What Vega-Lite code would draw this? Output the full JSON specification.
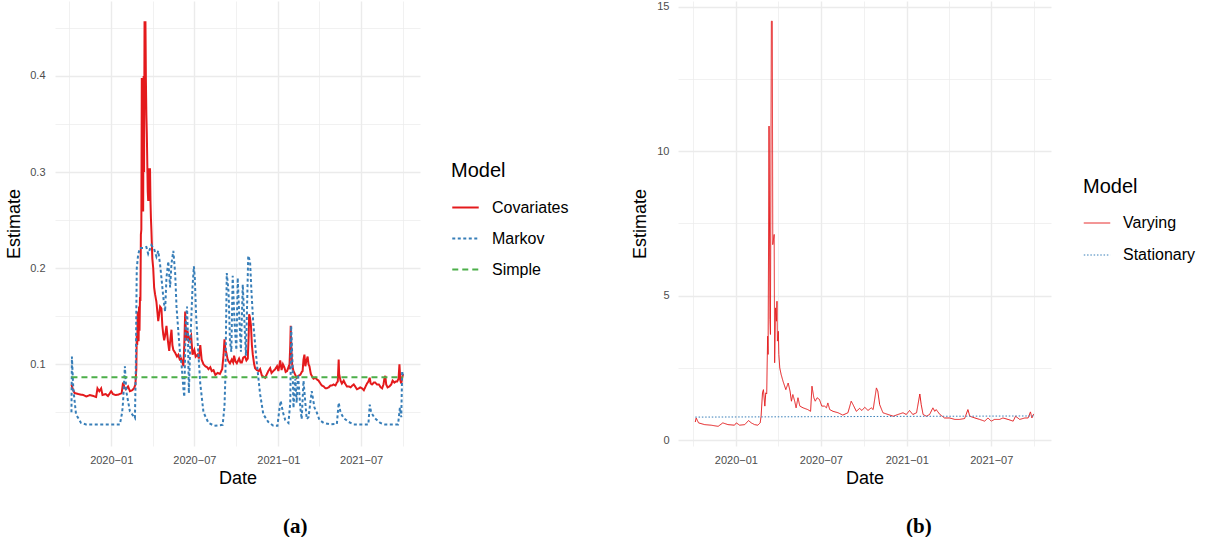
{
  "$schema": "https://vega.github.io/schema/vega-lite/v6.json",
  "background": "white",
  "padding": {"left": 5, "top": 0, "right": 0, "bottom": 0},
  "config": {
    "font": "Liberation Sans",
    "view": {"stroke": null},
    "axis": {
      "domain": false, "ticks": false,
      "gridColor": "#EBEBEB",
      "labelColor": "#4D4D4D", "labelFontSize": 11, "labelFont": "Liberation Sans",
      "titleColor": "#000000", "titleFontSize": 18, "titleFontWeight": "normal", "titleFont": "Liberation Sans"
    },
    "legend": {
      "titleFontSize": 20, "titleFontWeight": "normal", "titleColor": "#000000",
      "labelFontSize": 16, "labelColor": "#000000",
      "symbolType": "stroke"
    }
  },
  "resolve": {"scale": {"color": "independent", "strokeDash": "independent"}},
  "datasets": {
    "a": [
      {"date":"2019-10-06","model":"Covariates","value":0.079},
      {"date":"2019-10-09","model":"Covariates","value":0.074},
      {"date":"2019-10-13","model":"Covariates","value":0.070},
      {"date":"2019-10-21","model":"Covariates","value":0.069},
      {"date":"2019-11-01","model":"Covariates","value":0.068},
      {"date":"2019-11-08","model":"Covariates","value":0.0665},
      {"date":"2019-11-15","model":"Covariates","value":0.068},
      {"date":"2019-11-23","model":"Covariates","value":0.067},
      {"date":"2019-11-29","model":"Covariates","value":0.066},
      {"date":"2019-12-02","model":"Covariates","value":0.075},
      {"date":"2019-12-06","model":"Covariates","value":0.072},
      {"date":"2019-12-10","model":"Covariates","value":0.075},
      {"date":"2019-12-13","model":"Covariates","value":0.068},
      {"date":"2019-12-20","model":"Covariates","value":0.069},
      {"date":"2019-12-25","model":"Covariates","value":0.067},
      {"date":"2020-01-01","model":"Covariates","value":0.072},
      {"date":"2020-01-05","model":"Covariates","value":0.069},
      {"date":"2020-01-11","model":"Covariates","value":0.068},
      {"date":"2020-01-17","model":"Covariates","value":0.0685},
      {"date":"2020-01-24","model":"Covariates","value":0.070},
      {"date":"2020-01-27","model":"Covariates","value":0.081},
      {"date":"2020-01-30","model":"Covariates","value":0.076},
      {"date":"2020-02-02","model":"Covariates","value":0.074},
      {"date":"2020-02-07","model":"Covariates","value":0.077},
      {"date":"2020-02-11","model":"Covariates","value":0.072},
      {"date":"2020-02-16","model":"Covariates","value":0.073},
      {"date":"2020-02-20","model":"Covariates","value":0.075},
      {"date":"2020-02-23","model":"Covariates","value":0.079},
      {"date":"2020-02-25","model":"Covariates","value":0.095},
      {"date":"2020-02-26","model":"Covariates","value":0.130},
      {"date":"2020-02-27","model":"Covariates","value":0.120},
      {"date":"2020-02-28","model":"Covariates","value":0.155},
      {"date":"2020-02-29","model":"Covariates","value":0.128},
      {"date":"2020-03-01","model":"Covariates","value":0.124},
      {"date":"2020-03-02","model":"Covariates","value":0.160},
      {"date":"2020-03-03","model":"Covariates","value":0.135},
      {"date":"2020-03-04","model":"Covariates","value":0.170},
      {"date":"2020-03-05","model":"Covariates","value":0.166},
      {"date":"2020-03-06","model":"Covariates","value":0.235},
      {"date":"2020-03-07","model":"Covariates","value":0.240},
      {"date":"2020-03-08","model":"Covariates","value":0.398},
      {"date":"2020-03-09","model":"Covariates","value":0.280},
      {"date":"2020-03-10","model":"Covariates","value":0.398},
      {"date":"2020-03-11","model":"Covariates","value":0.259},
      {"date":"2020-03-12","model":"Covariates","value":0.400},
      {"date":"2020-03-13","model":"Covariates","value":0.300},
      {"date":"2020-03-14","model":"Covariates","value":0.457},
      {"date":"2020-03-15","model":"Covariates","value":0.400},
      {"date":"2020-03-16","model":"Covariates","value":0.457},
      {"date":"2020-03-17","model":"Covariates","value":0.395},
      {"date":"2020-03-18","model":"Covariates","value":0.360},
      {"date":"2020-03-19","model":"Covariates","value":0.340},
      {"date":"2020-03-20","model":"Covariates","value":0.310},
      {"date":"2020-03-21","model":"Covariates","value":0.280},
      {"date":"2020-03-22","model":"Covariates","value":0.270},
      {"date":"2020-03-23","model":"Covariates","value":0.280},
      {"date":"2020-03-24","model":"Covariates","value":0.304},
      {"date":"2020-03-25","model":"Covariates","value":0.270},
      {"date":"2020-03-26","model":"Covariates","value":0.304},
      {"date":"2020-03-27","model":"Covariates","value":0.270},
      {"date":"2020-03-28","model":"Covariates","value":0.252},
      {"date":"2020-03-29","model":"Covariates","value":0.240},
      {"date":"2020-03-30","model":"Covariates","value":0.225},
      {"date":"2020-03-31","model":"Covariates","value":0.210},
      {"date":"2020-04-02","model":"Covariates","value":0.200},
      {"date":"2020-04-04","model":"Covariates","value":0.180},
      {"date":"2020-04-06","model":"Covariates","value":0.173},
      {"date":"2020-04-09","model":"Covariates","value":0.165},
      {"date":"2020-04-11","model":"Covariates","value":0.155},
      {"date":"2020-04-13","model":"Covariates","value":0.145},
      {"date":"2020-04-15","model":"Covariates","value":0.152},
      {"date":"2020-04-17","model":"Covariates","value":0.160},
      {"date":"2020-04-20","model":"Covariates","value":0.158},
      {"date":"2020-04-22","model":"Covariates","value":0.140},
      {"date":"2020-04-24","model":"Covariates","value":0.131},
      {"date":"2020-04-26","model":"Covariates","value":0.125},
      {"date":"2020-04-28","model":"Covariates","value":0.130},
      {"date":"2020-05-01","model":"Covariates","value":0.140},
      {"date":"2020-05-04","model":"Covariates","value":0.125},
      {"date":"2020-05-07","model":"Covariates","value":0.114},
      {"date":"2020-05-10","model":"Covariates","value":0.128},
      {"date":"2020-05-12","model":"Covariates","value":0.136},
      {"date":"2020-05-14","model":"Covariates","value":0.120},
      {"date":"2020-05-16","model":"Covariates","value":0.115},
      {"date":"2020-05-20","model":"Covariates","value":0.112},
      {"date":"2020-05-24","model":"Covariates","value":0.108},
      {"date":"2020-05-27","model":"Covariates","value":0.110},
      {"date":"2020-05-30","model":"Covariates","value":0.105},
      {"date":"2020-06-02","model":"Covariates","value":0.106},
      {"date":"2020-06-05","model":"Covariates","value":0.102},
      {"date":"2020-06-07","model":"Covariates","value":0.098},
      {"date":"2020-06-09","model":"Covariates","value":0.120},
      {"date":"2020-06-11","model":"Covariates","value":0.155},
      {"date":"2020-06-13","model":"Covariates","value":0.125},
      {"date":"2020-06-16","model":"Covariates","value":0.135},
      {"date":"2020-06-19","model":"Covariates","value":0.125},
      {"date":"2020-06-22","model":"Covariates","value":0.128},
      {"date":"2020-06-24","model":"Covariates","value":0.130},
      {"date":"2020-06-27","model":"Covariates","value":0.110},
      {"date":"2020-07-01","model":"Covariates","value":0.115},
      {"date":"2020-07-04","model":"Covariates","value":0.108},
      {"date":"2020-07-08","model":"Covariates","value":0.110},
      {"date":"2020-07-11","model":"Covariates","value":0.106},
      {"date":"2020-07-14","model":"Covariates","value":0.120},
      {"date":"2020-07-17","model":"Covariates","value":0.105},
      {"date":"2020-07-21","model":"Covariates","value":0.100},
      {"date":"2020-07-25","model":"Covariates","value":0.098},
      {"date":"2020-07-29","model":"Covariates","value":0.097},
      {"date":"2020-08-01","model":"Covariates","value":0.095},
      {"date":"2020-08-05","model":"Covariates","value":0.097},
      {"date":"2020-08-08","model":"Covariates","value":0.093},
      {"date":"2020-08-12","model":"Covariates","value":0.094},
      {"date":"2020-08-16","model":"Covariates","value":0.089},
      {"date":"2020-08-21","model":"Covariates","value":0.091},
      {"date":"2020-08-26","model":"Covariates","value":0.090},
      {"date":"2020-08-31","model":"Covariates","value":0.095},
      {"date":"2020-09-03","model":"Covariates","value":0.110},
      {"date":"2020-09-05","model":"Covariates","value":0.126},
      {"date":"2020-09-07","model":"Covariates","value":0.115},
      {"date":"2020-09-09","model":"Covariates","value":0.112},
      {"date":"2020-09-12","model":"Covariates","value":0.105},
      {"date":"2020-09-14","model":"Covariates","value":0.103},
      {"date":"2020-09-17","model":"Covariates","value":0.101},
      {"date":"2020-09-21","model":"Covariates","value":0.105},
      {"date":"2020-09-24","model":"Covariates","value":0.102},
      {"date":"2020-09-26","model":"Covariates","value":0.109},
      {"date":"2020-09-29","model":"Covariates","value":0.103},
      {"date":"2020-10-02","model":"Covariates","value":0.101},
      {"date":"2020-10-05","model":"Covariates","value":0.104},
      {"date":"2020-10-07","model":"Covariates","value":0.106},
      {"date":"2020-10-10","model":"Covariates","value":0.102},
      {"date":"2020-10-13","model":"Covariates","value":0.102},
      {"date":"2020-10-16","model":"Covariates","value":0.107},
      {"date":"2020-10-20","model":"Covariates","value":0.108},
      {"date":"2020-10-23","model":"Covariates","value":0.104},
      {"date":"2020-10-26","model":"Covariates","value":0.106},
      {"date":"2020-10-28","model":"Covariates","value":0.130},
      {"date":"2020-10-29","model":"Covariates","value":0.152},
      {"date":"2020-10-31","model":"Covariates","value":0.148},
      {"date":"2020-11-02","model":"Covariates","value":0.140},
      {"date":"2020-11-04","model":"Covariates","value":0.120},
      {"date":"2020-11-06","model":"Covariates","value":0.110},
      {"date":"2020-11-09","model":"Covariates","value":0.100},
      {"date":"2020-11-11","model":"Covariates","value":0.096},
      {"date":"2020-11-15","model":"Covariates","value":0.094},
      {"date":"2020-11-19","model":"Covariates","value":0.093},
      {"date":"2020-11-22","model":"Covariates","value":0.095},
      {"date":"2020-11-26","model":"Covariates","value":0.088},
      {"date":"2020-11-30","model":"Covariates","value":0.087},
      {"date":"2020-12-03","model":"Covariates","value":0.086},
      {"date":"2020-12-06","model":"Covariates","value":0.089},
      {"date":"2020-12-10","model":"Covariates","value":0.093},
      {"date":"2020-12-14","model":"Covariates","value":0.096},
      {"date":"2020-12-17","model":"Covariates","value":0.091},
      {"date":"2020-12-21","model":"Covariates","value":0.093},
      {"date":"2020-12-25","model":"Covariates","value":0.095},
      {"date":"2020-12-29","model":"Covariates","value":0.098},
      {"date":"2021-01-01","model":"Covariates","value":0.093},
      {"date":"2021-01-05","model":"Covariates","value":0.104},
      {"date":"2021-01-08","model":"Covariates","value":0.094},
      {"date":"2021-01-11","model":"Covariates","value":0.100},
      {"date":"2021-01-14","model":"Covariates","value":0.097},
      {"date":"2021-01-17","model":"Covariates","value":0.092},
      {"date":"2021-01-20","model":"Covariates","value":0.093},
      {"date":"2021-01-23","model":"Covariates","value":0.097},
      {"date":"2021-01-25","model":"Covariates","value":0.095},
      {"date":"2021-01-27","model":"Covariates","value":0.120},
      {"date":"2021-01-28","model":"Covariates","value":0.140},
      {"date":"2021-01-30","model":"Covariates","value":0.110},
      {"date":"2021-01-31","model":"Covariates","value":0.100},
      {"date":"2021-02-03","model":"Covariates","value":0.093},
      {"date":"2021-02-07","model":"Covariates","value":0.089},
      {"date":"2021-02-10","model":"Covariates","value":0.086},
      {"date":"2021-02-14","model":"Covariates","value":0.088},
      {"date":"2021-02-18","model":"Covariates","value":0.089},
      {"date":"2021-02-21","model":"Covariates","value":0.092},
      {"date":"2021-02-23","model":"Covariates","value":0.093},
      {"date":"2021-02-25","model":"Covariates","value":0.105},
      {"date":"2021-02-27","model":"Covariates","value":0.110},
      {"date":"2021-03-01","model":"Covariates","value":0.098},
      {"date":"2021-03-03","model":"Covariates","value":0.103},
      {"date":"2021-03-06","model":"Covariates","value":0.108},
      {"date":"2021-03-08","model":"Covariates","value":0.100},
      {"date":"2021-03-10","model":"Covariates","value":0.098},
      {"date":"2021-03-13","model":"Covariates","value":0.090},
      {"date":"2021-03-15","model":"Covariates","value":0.088},
      {"date":"2021-03-19","model":"Covariates","value":0.085},
      {"date":"2021-03-23","model":"Covariates","value":0.086},
      {"date":"2021-03-27","model":"Covariates","value":0.084},
      {"date":"2021-03-30","model":"Covariates","value":0.083},
      {"date":"2021-04-03","model":"Covariates","value":0.080},
      {"date":"2021-04-06","model":"Covariates","value":0.078},
      {"date":"2021-04-10","model":"Covariates","value":0.077},
      {"date":"2021-04-14","model":"Covariates","value":0.075},
      {"date":"2021-04-17","model":"Covariates","value":0.075},
      {"date":"2021-04-21","model":"Covariates","value":0.076},
      {"date":"2021-04-25","model":"Covariates","value":0.078},
      {"date":"2021-04-28","model":"Covariates","value":0.078},
      {"date":"2021-05-02","model":"Covariates","value":0.079},
      {"date":"2021-05-06","model":"Covariates","value":0.078},
      {"date":"2021-05-09","model":"Covariates","value":0.081},
      {"date":"2021-05-11","model":"Covariates","value":0.082},
      {"date":"2021-05-13","model":"Covariates","value":0.105},
      {"date":"2021-05-14","model":"Covariates","value":0.090},
      {"date":"2021-05-17","model":"Covariates","value":0.083},
      {"date":"2021-05-20","model":"Covariates","value":0.080},
      {"date":"2021-05-24","model":"Covariates","value":0.083},
      {"date":"2021-05-27","model":"Covariates","value":0.080},
      {"date":"2021-05-31","model":"Covariates","value":0.077},
      {"date":"2021-06-04","model":"Covariates","value":0.077},
      {"date":"2021-06-08","model":"Covariates","value":0.076},
      {"date":"2021-06-12","model":"Covariates","value":0.078},
      {"date":"2021-06-15","model":"Covariates","value":0.079},
      {"date":"2021-06-18","model":"Covariates","value":0.077},
      {"date":"2021-06-22","model":"Covariates","value":0.074},
      {"date":"2021-06-26","model":"Covariates","value":0.075},
      {"date":"2021-06-29","model":"Covariates","value":0.076},
      {"date":"2021-07-03","model":"Covariates","value":0.075},
      {"date":"2021-07-07","model":"Covariates","value":0.073},
      {"date":"2021-07-10","model":"Covariates","value":0.076},
      {"date":"2021-07-14","model":"Covariates","value":0.080},
      {"date":"2021-07-17","model":"Covariates","value":0.082},
      {"date":"2021-07-20","model":"Covariates","value":0.086},
      {"date":"2021-07-22","model":"Covariates","value":0.080},
      {"date":"2021-07-25","model":"Covariates","value":0.079},
      {"date":"2021-07-29","model":"Covariates","value":0.081},
      {"date":"2021-08-01","model":"Covariates","value":0.081},
      {"date":"2021-08-05","model":"Covariates","value":0.079},
      {"date":"2021-08-09","model":"Covariates","value":0.079},
      {"date":"2021-08-13","model":"Covariates","value":0.076},
      {"date":"2021-08-16","model":"Covariates","value":0.075},
      {"date":"2021-08-19","model":"Covariates","value":0.079},
      {"date":"2021-08-21","model":"Covariates","value":0.085},
      {"date":"2021-08-23","model":"Covariates","value":0.088},
      {"date":"2021-08-25","model":"Covariates","value":0.079},
      {"date":"2021-08-28","model":"Covariates","value":0.076},
      {"date":"2021-09-01","model":"Covariates","value":0.077},
      {"date":"2021-09-05","model":"Covariates","value":0.079},
      {"date":"2021-09-08","model":"Covariates","value":0.083},
      {"date":"2021-09-12","model":"Covariates","value":0.081},
      {"date":"2021-09-15","model":"Covariates","value":0.082},
      {"date":"2021-09-18","model":"Covariates","value":0.082},
      {"date":"2021-09-21","model":"Covariates","value":0.085},
      {"date":"2021-09-23","model":"Covariates","value":0.100},
      {"date":"2021-09-25","model":"Covariates","value":0.083},
      {"date":"2021-09-27","model":"Covariates","value":0.080},
      {"date":"2021-09-29","model":"Covariates","value":0.086},
      {"date":"2021-10-01","model":"Covariates","value":0.090},

      {"date":"2019-10-06","model":"Markov","value":0.050},
      {"date":"2019-10-07","model":"Markov","value":0.108},
      {"date":"2019-10-10","model":"Markov","value":0.075},
      {"date":"2019-10-16","model":"Markov","value":0.048},
      {"date":"2019-10-27","model":"Markov","value":0.039},
      {"date":"2019-11-07","model":"Markov","value":0.0375},
      {"date":"2020-01-20","model":"Markov","value":0.0375},
      {"date":"2020-01-25","model":"Markov","value":0.050},
      {"date":"2020-01-27","model":"Markov","value":0.061},
      {"date":"2020-01-31","model":"Markov","value":0.098},
      {"date":"2020-02-03","model":"Markov","value":0.072},
      {"date":"2020-02-11","model":"Markov","value":0.051},
      {"date":"2020-02-22","model":"Markov","value":0.044},
      {"date":"2020-02-24","model":"Markov","value":0.100},
      {"date":"2020-02-25","model":"Markov","value":0.155},
      {"date":"2020-02-26","model":"Markov","value":0.200},
      {"date":"2020-02-29","model":"Markov","value":0.214},
      {"date":"2020-03-04","model":"Markov","value":0.221},
      {"date":"2020-03-11","model":"Markov","value":0.221},
      {"date":"2020-03-18","model":"Markov","value":0.222},
      {"date":"2020-03-22","model":"Markov","value":0.215},
      {"date":"2020-03-29","model":"Markov","value":0.224},
      {"date":"2020-04-04","model":"Markov","value":0.220},
      {"date":"2020-04-09","model":"Markov","value":0.212},
      {"date":"2020-04-13","model":"Markov","value":0.218},
      {"date":"2020-04-17","model":"Markov","value":0.204},
      {"date":"2020-04-20","model":"Markov","value":0.190},
      {"date":"2020-04-24","model":"Markov","value":0.170},
      {"date":"2020-04-28","model":"Markov","value":0.155},
      {"date":"2020-05-01","model":"Markov","value":0.190},
      {"date":"2020-05-05","model":"Markov","value":0.207},
      {"date":"2020-05-09","model":"Markov","value":0.180},
      {"date":"2020-05-12","model":"Markov","value":0.205},
      {"date":"2020-05-16","model":"Markov","value":0.218},
      {"date":"2020-05-20","model":"Markov","value":0.195},
      {"date":"2020-05-23","model":"Markov","value":0.160},
      {"date":"2020-05-27","model":"Markov","value":0.134},
      {"date":"2020-05-31","model":"Markov","value":0.110},
      {"date":"2020-06-03","model":"Markov","value":0.100},
      {"date":"2020-06-07","model":"Markov","value":0.075},
      {"date":"2020-06-09","model":"Markov","value":0.066},
      {"date":"2020-06-12","model":"Markov","value":0.140},
      {"date":"2020-06-15","model":"Markov","value":0.160},
      {"date":"2020-06-17","model":"Markov","value":0.130},
      {"date":"2020-06-19","model":"Markov","value":0.070},
      {"date":"2020-06-22","model":"Markov","value":0.120},
      {"date":"2020-06-27","model":"Markov","value":0.180},
      {"date":"2020-06-30","model":"Markov","value":0.202},
      {"date":"2020-07-02","model":"Markov","value":0.190},
      {"date":"2020-07-05","model":"Markov","value":0.150},
      {"date":"2020-07-10","model":"Markov","value":0.110},
      {"date":"2020-07-14","model":"Markov","value":0.080},
      {"date":"2020-07-21","model":"Markov","value":0.050},
      {"date":"2020-08-01","model":"Markov","value":0.039},
      {"date":"2020-08-14","model":"Markov","value":0.036},
      {"date":"2020-09-01","model":"Markov","value":0.037},
      {"date":"2020-09-05","model":"Markov","value":0.056},
      {"date":"2020-09-07","model":"Markov","value":0.087},
      {"date":"2020-09-10","model":"Markov","value":0.195},
      {"date":"2020-09-14","model":"Markov","value":0.175},
      {"date":"2020-09-17","model":"Markov","value":0.124},
      {"date":"2020-09-20","model":"Markov","value":0.113},
      {"date":"2020-09-23","model":"Markov","value":0.192},
      {"date":"2020-09-27","model":"Markov","value":0.143},
      {"date":"2020-10-01","model":"Markov","value":0.115},
      {"date":"2020-10-04","model":"Markov","value":0.190},
      {"date":"2020-10-08","model":"Markov","value":0.143},
      {"date":"2020-10-11","model":"Markov","value":0.113},
      {"date":"2020-10-15","model":"Markov","value":0.183},
      {"date":"2020-10-19","model":"Markov","value":0.140},
      {"date":"2020-10-22","model":"Markov","value":0.109},
      {"date":"2020-10-27","model":"Markov","value":0.213},
      {"date":"2020-10-31","model":"Markov","value":0.207},
      {"date":"2020-11-03","model":"Markov","value":0.176},
      {"date":"2020-11-07","model":"Markov","value":0.143},
      {"date":"2020-11-15","model":"Markov","value":0.100},
      {"date":"2020-11-22","model":"Markov","value":0.069},
      {"date":"2020-11-29","model":"Markov","value":0.048},
      {"date":"2020-12-10","model":"Markov","value":0.040},
      {"date":"2020-12-21","model":"Markov","value":0.036},
      {"date":"2020-12-30","model":"Markov","value":0.036},
      {"date":"2021-01-03","model":"Markov","value":0.0525},
      {"date":"2021-01-06","model":"Markov","value":0.062},
      {"date":"2021-01-11","model":"Markov","value":0.050},
      {"date":"2021-01-16","model":"Markov","value":0.042},
      {"date":"2021-01-23","model":"Markov","value":0.039},
      {"date":"2021-01-27","model":"Markov","value":0.060},
      {"date":"2021-01-29","model":"Markov","value":0.140},
      {"date":"2021-02-01","model":"Markov","value":0.100},
      {"date":"2021-02-03","model":"Markov","value":0.0545},
      {"date":"2021-02-07","model":"Markov","value":0.085},
      {"date":"2021-02-10","model":"Markov","value":0.060},
      {"date":"2021-02-13","model":"Markov","value":0.0896},
      {"date":"2021-02-18","model":"Markov","value":0.055},
      {"date":"2021-02-21","model":"Markov","value":0.043},
      {"date":"2021-02-25","model":"Markov","value":0.083},
      {"date":"2021-03-01","model":"Markov","value":0.060},
      {"date":"2021-03-04","model":"Markov","value":0.043},
      {"date":"2021-03-08","model":"Markov","value":0.045},
      {"date":"2021-03-15","model":"Markov","value":0.072},
      {"date":"2021-03-21","model":"Markov","value":0.055},
      {"date":"2021-03-26","model":"Markov","value":0.050},
      {"date":"2021-04-01","model":"Markov","value":0.042},
      {"date":"2021-04-10","model":"Markov","value":0.039},
      {"date":"2021-04-25","model":"Markov","value":0.0375},
      {"date":"2021-05-09","model":"Markov","value":0.038},
      {"date":"2021-05-13","model":"Markov","value":0.060},
      {"date":"2021-05-17","model":"Markov","value":0.050},
      {"date":"2021-05-24","model":"Markov","value":0.044},
      {"date":"2021-06-04","model":"Markov","value":0.040},
      {"date":"2021-06-15","model":"Markov","value":0.0375},
      {"date":"2021-07-17","model":"Markov","value":0.0375},
      {"date":"2021-07-20","model":"Markov","value":0.058},
      {"date":"2021-07-23","model":"Markov","value":0.050},
      {"date":"2021-07-31","model":"Markov","value":0.044},
      {"date":"2021-08-12","model":"Markov","value":0.039},
      {"date":"2021-08-22","model":"Markov","value":0.0375},
      {"date":"2021-09-20","model":"Markov","value":0.0375},
      {"date":"2021-09-24","model":"Markov","value":0.055},
      {"date":"2021-09-27","model":"Markov","value":0.045},
      {"date":"2021-09-29","model":"Markov","value":0.093},
      {"date":"2021-10-01","model":"Markov","value":0.086},

      {"date":"2019-10-06","model":"Simple","value":0.0865},
      {"date":"2021-10-01","model":"Simple","value":0.0865}
    ],
    "b": [
      {"date":"2019-10-06","model":"Varying","value":0.63},
      {"date":"2019-10-08","model":"Varying","value":0.77},
      {"date":"2019-10-13","model":"Varying","value":0.60},
      {"date":"2019-10-26","model":"Varying","value":0.54},
      {"date":"2019-11-09","model":"Varying","value":0.52},
      {"date":"2019-11-24","model":"Varying","value":0.48},
      {"date":"2019-12-04","model":"Varying","value":0.60},
      {"date":"2019-12-15","model":"Varying","value":0.54},
      {"date":"2019-12-29","model":"Varying","value":0.52},
      {"date":"2020-01-02","model":"Varying","value":0.60},
      {"date":"2020-01-09","model":"Varying","value":0.52},
      {"date":"2020-01-20","model":"Varying","value":0.54},
      {"date":"2020-01-28","model":"Varying","value":0.68},
      {"date":"2020-02-03","model":"Varying","value":0.60},
      {"date":"2020-02-10","model":"Varying","value":0.54},
      {"date":"2020-02-17","model":"Varying","value":0.52},
      {"date":"2020-02-22","model":"Varying","value":0.60},
      {"date":"2020-02-24","model":"Varying","value":0.83},
      {"date":"2020-02-27","model":"Varying","value":1.64},
      {"date":"2020-02-29","model":"Varying","value":1.75},
      {"date":"2020-03-03","model":"Varying","value":1.18},
      {"date":"2020-03-05","model":"Varying","value":1.64},
      {"date":"2020-03-07","model":"Varying","value":1.60},
      {"date":"2020-03-09","model":"Varying","value":3.60},
      {"date":"2020-03-10","model":"Varying","value":2.97},
      {"date":"2020-03-12","model":"Varying","value":10.87},
      {"date":"2020-03-14","model":"Varying","value":4.18},
      {"date":"2020-03-15","model":"Varying","value":3.66},
      {"date":"2020-03-17","model":"Varying","value":14.5},
      {"date":"2020-03-19","model":"Varying","value":14.5},
      {"date":"2020-03-20","model":"Varying","value":6.77},
      {"date":"2020-03-23","model":"Varying","value":7.12},
      {"date":"2020-03-24","model":"Varying","value":2.68},
      {"date":"2020-03-26","model":"Varying","value":4.58},
      {"date":"2020-03-28","model":"Varying","value":4.12},
      {"date":"2020-03-29","model":"Varying","value":4.81},
      {"date":"2020-03-30","model":"Varying","value":3.43},
      {"date":"2020-04-01","model":"Varying","value":3.77},
      {"date":"2020-04-02","model":"Varying","value":2.97},
      {"date":"2020-04-04","model":"Varying","value":2.50},
      {"date":"2020-04-07","model":"Varying","value":2.27},
      {"date":"2020-04-11","model":"Varying","value":2.04},
      {"date":"2020-04-17","model":"Varying","value":1.75},
      {"date":"2020-04-22","model":"Varying","value":1.98},
      {"date":"2020-04-26","model":"Varying","value":1.70},
      {"date":"2020-04-29","model":"Varying","value":1.35},
      {"date":"2020-05-02","model":"Varying","value":1.58},
      {"date":"2020-05-06","model":"Varying","value":1.35},
      {"date":"2020-05-09","model":"Varying","value":1.12},
      {"date":"2020-05-13","model":"Varying","value":1.47},
      {"date":"2020-05-17","model":"Varying","value":1.18},
      {"date":"2020-05-24","model":"Varying","value":1.12},
      {"date":"2020-06-03","model":"Varying","value":1.06},
      {"date":"2020-06-09","model":"Varying","value":1.00},
      {"date":"2020-06-12","model":"Varying","value":1.87},
      {"date":"2020-06-16","model":"Varying","value":1.47},
      {"date":"2020-06-19","model":"Varying","value":1.35},
      {"date":"2020-06-23","model":"Varying","value":1.47},
      {"date":"2020-06-28","model":"Varying","value":1.41},
      {"date":"2020-07-03","model":"Varying","value":1.18},
      {"date":"2020-07-09","model":"Varying","value":1.18},
      {"date":"2020-07-13","model":"Varying","value":1.12},
      {"date":"2020-07-16","model":"Varying","value":1.29},
      {"date":"2020-07-20","model":"Varying","value":1.06},
      {"date":"2020-07-27","model":"Varying","value":1.00},
      {"date":"2020-08-07","model":"Varying","value":0.95},
      {"date":"2020-08-17","model":"Varying","value":0.87},
      {"date":"2020-08-28","model":"Varying","value":0.95},
      {"date":"2020-09-04","model":"Varying","value":1.35},
      {"date":"2020-09-08","model":"Varying","value":1.23},
      {"date":"2020-09-15","model":"Varying","value":1.00},
      {"date":"2020-09-22","model":"Varying","value":1.10},
      {"date":"2020-09-27","model":"Varying","value":1.03},
      {"date":"2020-10-03","model":"Varying","value":1.14},
      {"date":"2020-10-10","model":"Varying","value":1.03},
      {"date":"2020-10-17","model":"Varying","value":1.12},
      {"date":"2020-10-21","model":"Varying","value":1.06},
      {"date":"2020-10-28","model":"Varying","value":1.81},
      {"date":"2020-10-31","model":"Varying","value":1.70},
      {"date":"2020-11-04","model":"Varying","value":1.23},
      {"date":"2020-11-11","model":"Varying","value":0.95},
      {"date":"2020-11-22","model":"Varying","value":0.89},
      {"date":"2020-12-03","model":"Varying","value":0.83},
      {"date":"2020-12-13","model":"Varying","value":0.89},
      {"date":"2020-12-24","model":"Varying","value":0.95},
      {"date":"2020-12-31","model":"Varying","value":0.89},
      {"date":"2021-01-07","model":"Varying","value":1.03},
      {"date":"2021-01-14","model":"Varying","value":0.89},
      {"date":"2021-01-22","model":"Varying","value":0.95},
      {"date":"2021-01-29","model":"Varying","value":1.60},
      {"date":"2021-02-01","model":"Varying","value":1.23},
      {"date":"2021-02-05","model":"Varying","value":0.89},
      {"date":"2021-02-12","model":"Varying","value":0.83},
      {"date":"2021-02-19","model":"Varying","value":0.89},
      {"date":"2021-02-26","model":"Varying","value":1.12},
      {"date":"2021-03-02","model":"Varying","value":1.00},
      {"date":"2021-03-05","model":"Varying","value":1.06},
      {"date":"2021-03-13","model":"Varying","value":0.89},
      {"date":"2021-03-23","model":"Varying","value":0.77},
      {"date":"2021-04-03","model":"Varying","value":0.77},
      {"date":"2021-04-14","model":"Varying","value":0.72},
      {"date":"2021-04-24","model":"Varying","value":0.72},
      {"date":"2021-05-05","model":"Varying","value":0.75},
      {"date":"2021-05-12","model":"Varying","value":1.06},
      {"date":"2021-05-16","model":"Varying","value":0.83},
      {"date":"2021-05-27","model":"Varying","value":0.77},
      {"date":"2021-06-06","model":"Varying","value":0.72},
      {"date":"2021-06-17","model":"Varying","value":0.66},
      {"date":"2021-06-24","model":"Varying","value":0.77},
      {"date":"2021-07-01","model":"Varying","value":0.66},
      {"date":"2021-07-08","model":"Varying","value":0.72},
      {"date":"2021-07-19","model":"Varying","value":0.72},
      {"date":"2021-07-26","model":"Varying","value":0.77},
      {"date":"2021-08-06","model":"Varying","value":0.72},
      {"date":"2021-08-17","model":"Varying","value":0.66},
      {"date":"2021-08-22","model":"Varying","value":0.83},
      {"date":"2021-08-31","model":"Varying","value":0.72},
      {"date":"2021-09-11","model":"Varying","value":0.77},
      {"date":"2021-09-18","model":"Varying","value":0.77},
      {"date":"2021-09-23","model":"Varying","value":0.98},
      {"date":"2021-09-26","model":"Varying","value":0.77},
      {"date":"2021-09-30","model":"Varying","value":0.91},

      {"date":"2019-10-06","model":"Stationary","value":0.80},
      {"date":"2021-09-30","model":"Stationary","value":0.84}
    ]
  },
  "spacing": 62,
  "hconcat": [
    {
      "width": 365,
      "height": 445,
      "data": {"name": "a"},
      "title": {"text": "(a)", "orient": "bottom", "anchor": "middle", "frame": "bounds", "font": "Liberation Serif", "fontSize": 21, "fontWeight": "bold", "color": "#000000", "offset": 29, "dx": 8},
      "mark": {"type": "line", "strokeWidth": 2},
      "encoding": {
        "x": {
          "field": "date", "type": "temporal", "title": "Date",
          "scale": {"type": "utc", "domain": [{"year": 2019, "month": 8, "date": 31, "utc": true}, {"year": 2021, "month": 11, "date": 7, "utc": true}]},
          "axis": {
            "values": [
              {"year": 2019, "month": 10, "date": 1, "utc": true},
              {"year": 2020, "month": 1, "date": 1, "utc": true},
              {"year": 2020, "month": 4, "date": 1, "utc": true},
              {"year": 2020, "month": 7, "date": 1, "utc": true},
              {"year": 2020, "month": 10, "date": 1, "utc": true},
              {"year": 2021, "month": 1, "date": 1, "utc": true},
              {"year": 2021, "month": 4, "date": 1, "utc": true},
              {"year": 2021, "month": 7, "date": 1, "utc": true},
              {"year": 2021, "month": 10, "date": 1, "utc": true}
            ],
            "labelExpr": "utcmonth(datum.value) % 6 == 0 ? utcFormat(datum.value, '%Y\u2212%m') : ''",
            "gridWidth": {"condition": {"test": "utcmonth(datum.value) % 6 == 0", "value": 1.4}, "value": 0.7},
            "labelPadding": 8, "titlePadding": 4
          }
        },
        "y": {
          "field": "value", "type": "quantitative", "title": "Estimate",
          "scale": {"domain": [0.015, 0.478], "nice": false, "zero": false},
          "axis": {
            "values": [0.05, 0.1, 0.15, 0.2, 0.25, 0.3, 0.35, 0.4, 0.45],
            "labelExpr": "round(datum.value * 20) % 2 == 0 ? format(datum.value, '.1f') : ''",
            "gridWidth": {"condition": {"test": "round(datum.value * 20) % 2 == 0", "value": 1.4}, "value": 0.7},
            "labelPadding": 10, "titlePadding": 6
          }
        },
        "color": {
          "field": "model", "type": "nominal", "title": "Model",
          "scale": {"domain": ["Covariates", "Markov", "Simple"], "range": ["#E41A1C", "#377EB8", "#4DAF4A"]},
          "legend": {"orient": "none", "legendX": 396, "legendY": 160, "symbolSize": 700, "symbolStrokeWidth": 2, "rowPadding": 8, "titlePadding": 12, "labelOffset": 12}
        },
        "strokeDash": {
          "field": "model", "type": "nominal",
          "scale": {"domain": ["Covariates", "Markov", "Simple"], "range": [[1, 0], [3, 2.5], [6, 4]]}
        }
      }
    },
    {
      "width": 373,
      "height": 445,
      "data": {"name": "b"},
      "title": {"text": "(b)", "orient": "bottom", "anchor": "middle", "frame": "bounds", "font": "Liberation Serif", "fontSize": 21, "fontWeight": "bold", "color": "#000000", "offset": 29, "dx": 5},
      "mark": {"type": "line", "strokeWidth": 1},
      "encoding": {
        "x": {
          "field": "date", "type": "temporal", "title": "Date",
          "scale": {"type": "utc", "domain": [{"year": 2019, "month": 8, "date": 30, "utc": true}, {"year": 2021, "month": 11, "date": 6, "utc": true}]},
          "axis": {
            "values": [
              {"year": 2019, "month": 10, "date": 1, "utc": true},
              {"year": 2020, "month": 1, "date": 1, "utc": true},
              {"year": 2020, "month": 4, "date": 1, "utc": true},
              {"year": 2020, "month": 7, "date": 1, "utc": true},
              {"year": 2020, "month": 10, "date": 1, "utc": true},
              {"year": 2021, "month": 1, "date": 1, "utc": true},
              {"year": 2021, "month": 4, "date": 1, "utc": true},
              {"year": 2021, "month": 7, "date": 1, "utc": true},
              {"year": 2021, "month": 10, "date": 1, "utc": true}
            ],
            "labelExpr": "utcmonth(datum.value) % 6 == 0 ? utcFormat(datum.value, '%Y\u2212%m') : ''",
            "gridWidth": {"condition": {"test": "utcmonth(datum.value) % 6 == 0", "value": 1.4}, "value": 0.7},
            "labelPadding": 8, "titlePadding": 4
          }
        },
        "y": {
          "field": "value", "type": "quantitative", "title": "Estimate",
          "scale": {"domain": [-0.2, 15.2], "nice": false, "zero": false},
          "axis": {
            "values": [0, 2.5, 5, 7.5, 10, 12.5, 15],
            "labelExpr": "datum.value % 5 == 0 ? format(datum.value, 'd') : ''",
            "gridWidth": {"condition": {"test": "datum.value % 5 == 0", "value": 1.4}, "value": 0.7},
            "labelPadding": 9, "titlePadding": 7
          }
        },
        "color": {
          "field": "model", "type": "nominal", "title": "Model",
          "scale": {"domain": ["Varying", "Stationary"], "range": ["#E41A1C", "#377EB8"]},
          "legend": {"orient": "none", "legendX": 405, "legendY": 176, "symbolSize": 700, "symbolStrokeWidth": 1, "rowPadding": 10, "titlePadding": 12, "labelOffset": 12}
        },
        "strokeDash": {
          "field": "model", "type": "nominal",
          "scale": {"domain": ["Varying", "Stationary"], "range": [[1, 0], [1.5, 1.8]]}
        }
      }
    }
  ]
}
